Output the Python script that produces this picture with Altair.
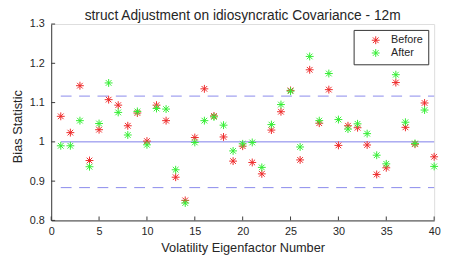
import altair as alt
import pandas as pd

factor = list(range(1, 41))
before = [1.065, 1.0235, 1.143, 0.9525, 1.031, 1.1075, 1.0935, 1.041, 1.0735, 1.002,
          1.0935, 1.054, 0.910, 0.851, 1.011, 1.135, 1.066, 1.0125, 0.951, 0.989,
          0.9475, 0.9185, 1.030, 1.0767, 1.131, 0.954, 1.1835, 1.0475, 1.133, 0.991,
          1.041, 1.036, 0.992, 0.917, 0.934, 1.151, 1.037, 0.994, 1.099, 0.962]
after = [0.990, 0.990, 1.054, 0.9367, 1.0467, 1.150, 1.075, 1.0175, 1.0775, 0.9925,
         1.085, 1.0835, 0.929, 0.8443, 0.9985, 1.054, 1.0635, 1.0425, 0.977, 0.995,
         0.9985, 0.935, 1.044, 1.095, 1.129, 0.987, 1.2175, 1.054, 1.174, 1.0568,
         1.0325, 1.046, 1.021, 0.966, 0.944, 1.171, 1.050, 0.996, 1.081, 0.9375]
series_names = ["Before", "After"]
hline_values = [1.0, 1.1165, 0.8835]
hline_dashed = [False, True, True]
x_ticks = [0, 5, 10, 15, 20, 25, 30, 35, 40]
y_ticks = [0.8, 0.9, 1.0, 1.1, 1.2, 1.3]

FONT = "Liberation Sans"
RED = "#ee2a2a"
GREEN = "#33ee33"
LINE = "#7c7cea"
AX = "#3a3a3a"
STAR = "M-1,0L1,0M0,-1L0,1M-0.72,-0.72L0.72,0.72M-0.72,0.72L0.72,-0.72"

pts = pd.DataFrame({
    "k": factor * 2,
    "v": before + after,
    "s": ["Before"] * len(before) + ["After"] * len(after),
    "o": [0] * len(before) + [1] * len(after),
})
lines = pd.DataFrame({"y": hline_values, "dashed": hline_dashed,
                      "x1": [factor[0]] * 3, "x2": [factor[-1]] * 3})

xs = alt.Scale(domain=[0, 40], nice=False, zero=False)
ys = alt.Scale(domain=[0.8, 1.3], nice=False, zero=False)

xaxis = alt.Axis(values=x_ticks, tickSize=0, labelPadding=5, grid=False,
                 title="Volatility Eigenfactor Number", titleFontSize=13,
                 titleFontWeight="normal", titleFont=FONT, titleColor="#262626",
                 titleY=28, titleBaseline="middle", labelOverlap=False,
                 labelFont=FONT, labelFontSize=11, labelColor="#262626",
                 domainColor=AX, labelFlush=False)
yaxis = alt.Axis(values=y_ticks, tickSize=0, labelPadding=7, grid=False,
                 title="Bias Statistic", titleFontSize=13, titleFontWeight="normal",
                 titleFont=FONT, titleColor="#262626", titleX=-34, titleY=104,
                 titleBaseline="middle", titleAlign="center", titleAngle=-90,
                 labelFont=FONT, labelFontSize=11, labelColor="#262626",
                 labelOverlap=False, labelFlush=False,
                 domainColor=AX, labelExpr="format(datum.value, '.2~f')")

X = lambda f: alt.X(f, scale=xs, axis=xaxis)
Y = lambda f: alt.Y(f, scale=ys, axis=yaxis)

solid = alt.Chart(lines).transform_filter("!datum.dashed").mark_rule(
    color=LINE, strokeWidth=1).encode(x=X("x1:Q"), x2="x2:Q", y=Y("y:Q"))
dashed = alt.Chart(lines).transform_filter("datum.dashed").mark_rule(
    color=LINE, strokeWidth=1, strokeDash=[11, 7.7], opacity=0.9).encode(
    x=X("x1:Q"), x2="x2:Q", y=Y("y:Q"))

xt = alt.Chart(pd.DataFrame({"t": x_ticks})).mark_rule(color=AX, strokeWidth=1).encode(
    x=X("t:Q"), y=alt.value(200), y2=alt.value(196))
yt = alt.Chart(pd.DataFrame({"t": y_ticks})).mark_rule(color=AX, strokeWidth=1).encode(
    y=Y("t:Q"), x=alt.value(0), x2=alt.value(4))

points = alt.Chart(pts).mark_point(shape=STAR, filled=False, size=64, strokeWidth=1,
                                   opacity=1).encode(
    x=X("k:Q"),
    y=Y("v:Q"),
    color=alt.Color("s:N", scale=alt.Scale(domain=series_names, range=[RED, GREEN]),
                    legend=alt.Legend(title=None, orient="none", legendX=308, legendY=6,
                                      padding=5, symbolOffset=12, labelOffset=10,
                                      rowPadding=0, symbolType=STAR, symbolSize=64,
                                      symbolStrokeWidth=1, symbolFillColor="transparent",
                                      labelFont=FONT, labelFontSize=11, labelColor="#262626",
                                      strokeColor="#333333", fillColor="white",
                                      cornerRadius=0)),
    order=alt.Order("o:Q"),
)

chart = alt.layer(solid, dashed, xt, yt, points).properties(
    width=390, height=200,
    title=alt.TitleParams("struct Adjustment on idiosyncratic Covariance - 12m",
                          font=FONT, fontSize=14, fontWeight="normal", color="#262626",
                          anchor="middle", offset=5, dy=10),
    autosize=alt.AutoSizeParams(type="none"),
    padding={"left": 44, "top": 14, "right": 8, "bottom": 39},
).configure_view(stroke=None).configure(background="white")

chart.save("out.html", embed_options={"renderer": "svg", "actions": False})
